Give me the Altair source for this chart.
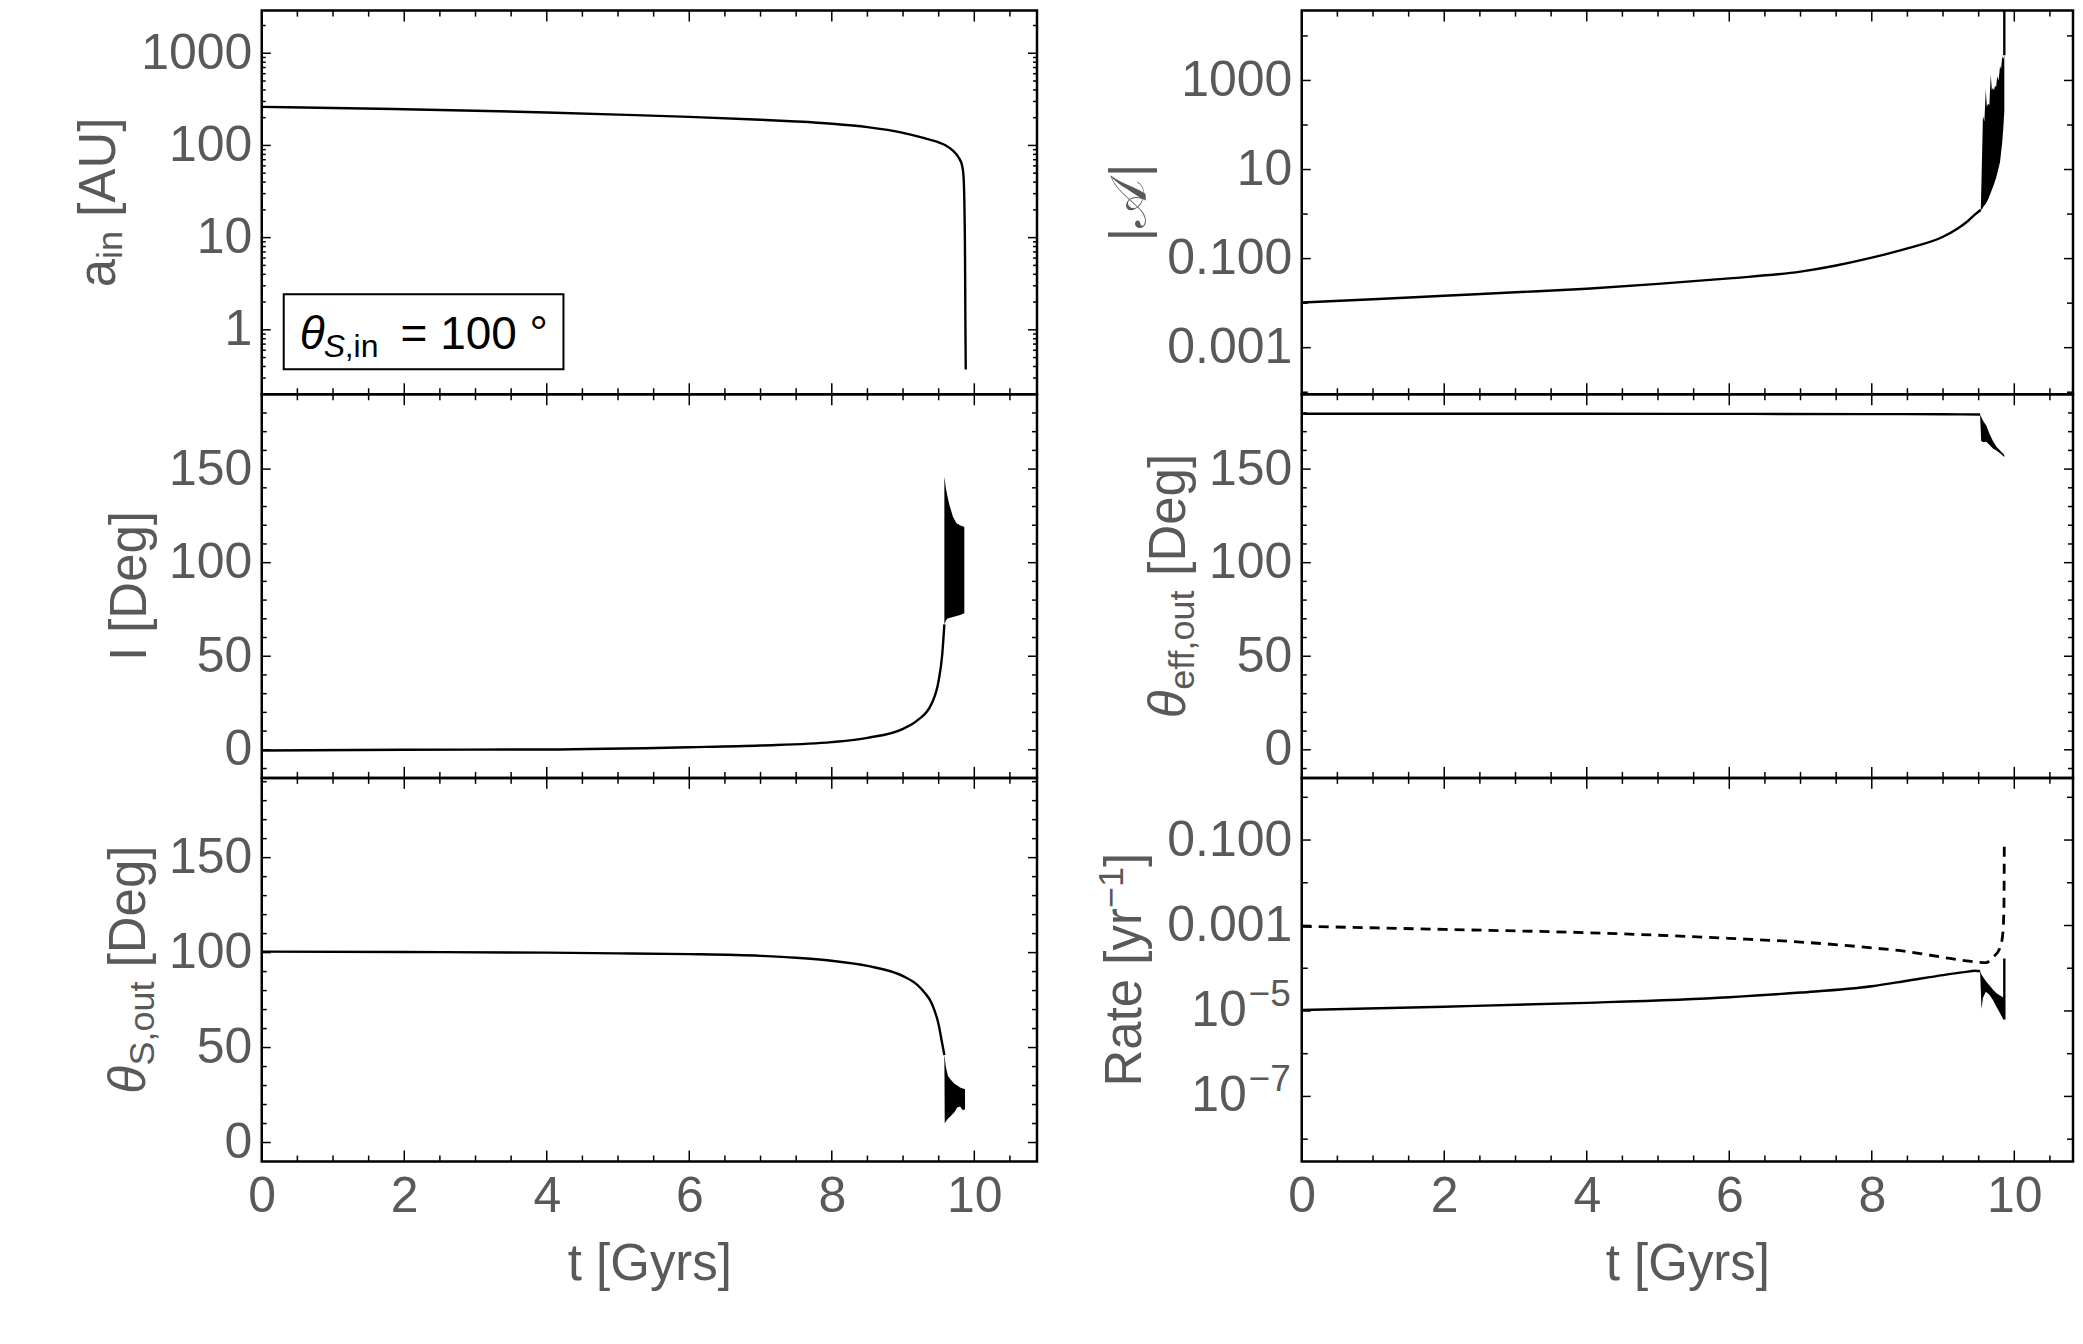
import altair as alt
import pandas as pd

FONT = "Liberation Sans"
GRAY = "#595959"
FS = 50       # tick labels
FS_T = 51     # axis titles
SUB = 36      # subscripts in titles
H = 384
W_L = 776
W_R = 772
PX_PER_T = 776 / 10.88
XMAX_L = W_L / PX_PER_T
XMAX_R = W_R / PX_PER_T

# ---------------- x ticks ----------------
t_major = [0, 2, 4, 6, 8, 10]
t_minor = [0.5, 1, 1.5, 2.5, 3, 3.5, 4.5, 5, 5.5, 6.5, 7, 7.5, 8.5, 9, 9.5, 10.5]

# ---------------- panel a_in [AU] ----------------
a_t = [0, 1, 2, 3, 4, 5, 6, 7, 7.5, 8, 8.5, 9, 9.3, 9.5, 9.6, 9.7, 9.78, 9.83, 9.85, 9.86, 9.87, 9.875, 9.88]
a_v = [262, 255, 247, 238, 228, 216, 204, 190, 182, 172, 158, 137, 120, 108, 100, 88, 74, 60, 45, 25, 6, 1.2, 0.37]

# ---------------- panel |A| ----------------
b_t = [0, 1, 2, 3, 4, 5, 6, 7, 7.5, 8, 8.5, 9, 9.2, 9.35, 9.45, 9.53]
b_v = [0.0103, 0.0122, 0.0146, 0.0175, 0.021, 0.027, 0.036, 0.051, 0.07, 0.105, 0.17, 0.31, 0.47, 0.7, 0.98, 1.25]
b_band_t = [9.53, 9.55, 9.56, 9.58, 9.60, 9.615, 9.63, 9.65, 9.67, 9.685, 9.70, 9.715, 9.73, 9.745, 9.76, 9.78, 9.80, 9.815, 9.83, 9.845, 9.86]
b_band_lo = [1.25, 1.3, 1.4, 1.55, 1.7, 1.9, 2.1, 2.5, 3.0, 3.5, 4.0, 4.7, 5.5, 6.5, 8, 11, 15, 24, 40, 80, 200]
b_band_hi = [1.25, 30, 160, 120, 630, 250, 300, 280, 1360, 600, 690, 600, 770, 700, 1250, 1000, 2100, 1800, 3500, 3000, 3700]
b_spike_t = [9.86, 9.8601]
b_spike_v = [3700, 1e6]

# ---------------- panel I [Deg] ----------------
c_t = [0, 2, 4, 6, 7, 8, 8.5, 9, 9.2, 9.4, 9.5, 9.55, 9.58]
c_v = [-0.4, 0, 0.2, 1.4, 2.3, 4.1, 6.4, 11.2, 15.7, 24.6, 37, 51, 67]
c_band_t = [9.58, 9.60, 9.62, 9.65, 9.70, 9.75, 9.80, 9.86]
c_band_hi = [146, 140, 136, 131, 124.5, 121, 120, 119]
c_band_lo = [67, 69, 70, 70.5, 71, 71.5, 72, 73]

# ---------------- panel theta_eff,out ----------------
d_t = [0, 2, 4, 6, 8, 9, 9.52]
d_v = [179.6, 179.6, 179.6, 179.5, 179.4, 179.3, 179.2]
d_band_t = [9.52, 9.535, 9.56, 9.61, 9.65, 9.70, 9.75, 9.80, 9.86]
d_band_hi = [179.2, 178, 176, 173, 169, 165, 162, 160, 157.5]
d_band_lo = [179.2, 165, 164.5, 164.5, 163, 161, 160, 158.5, 156.5]

# ---------------- panel theta_S,out ----------------
e_t = [0, 2, 4, 5, 6, 7, 7.5, 8, 8.5, 9, 9.2, 9.3, 9.4, 9.5, 9.55, 9.58]
e_v = [100.5, 100.3, 100, 99.6, 99.2, 98.3, 97.3, 95.7, 93, 87.6, 83, 79, 73.5, 62, 52, 46]
e_band_t = [9.58, 9.585, 9.60, 9.63, 9.67, 9.72, 9.76, 9.80, 9.84, 9.87]
e_band_hi = [46, 45, 40, 35, 33, 31, 30, 29, 28.5, 28]
e_band_lo = [46, 10, 11, 12.5, 14, 16, 18.5, 19, 17, 17.5]

# ---------------- panel Rate ----------------
f_t = [0, 2, 4, 6, 7, 8, 8.5, 9, 9.3, 9.45, 9.52]
f_v = [1.05e-5, 1.26e-5, 1.55e-5, 2.1e-5, 2.7e-5, 3.8e-5, 5.1e-5, 6.9e-5, 8.1e-5, 8.7e-5, 8.5e-5]
f_band_t = [9.52, 9.54, 9.56, 9.60, 9.65, 9.70, 9.75, 9.80, 9.84, 9.86]
f_band_hi = [8.5e-5, 7.1e-5, 6.3e-5, 5.0e-5, 4.0e-5, 3.2e-5, 2.6e-5, 2.3e-5, 2.1e-5, 2.1e-5]
f_band_lo = [8.5e-5, 1.1e-5, 2.0e-5, 2.8e-5, 2.4e-5, 1.8e-5, 1.26e-5, 8.9e-6, 6.6e-6, 6.3e-6]
f_spike_t = [9.86, 9.8601]
f_spike_v = [6.3e-6, 1.7e-4]
f_dash_t = [0, 2, 4, 6, 7, 8, 8.5, 9, 9.3, 9.5, 9.6, 9.7, 9.8, 9.84, 9.855, 9.86]
f_dash_v = [9.6e-4, 8.1e-4, 6.8e-4, 5.0e-4, 4.1e-4, 3.0e-4, 2.45e-4, 1.8e-4, 1.5e-4, 1.38e-4, 1.35e-4, 1.8e-4, 3.0e-4, 6.8e-4, 3e-3, 0.1]
f_pow_v = [1e-5, 1e-7]
f_pow_e = ["\u22125", "\u22127"]

ONE = pd.DataFrame({"k": [0]})

# Arial / Liberation Sans advance widths (em)
WID = {'a': .556, 'i': .222, 'n': .556, ' ': .278, '[': .278, ']': .278, 'A': .667,
       'U': .722, 'I': .278, 'D': .722, 'e': .556, 'g': .556, '\u03b8': .556, 'S': .667,
       ',': .278, 'o': .556, 'u': .556, 't': .278, 'f': .278, 'R': .722, 'y': .5,
       'r': .333, '\u2212': .584, '1': .556, '|': .26, '=': .584, '0': .556, '\u00b0': .4,
       '\U0001d49c': 1.0}


def tw(s, fs):
    return sum(WID.get(c, .7) for c in s) * fs


def X(xmax, axis):
    return alt.X("t:Q", scale=alt.Scale(domain=[0, xmax], nice=False, zero=False), axis=axis)


def xaxis_bottom():
    return alt.Axis(values=t_major, format="d", labelFontSize=FS, labelFont=FONT, labelColor=GRAY,
                    ticks=False, tickSize=0, domain=False, grid=False, labelPadding=10,
                    labelFlush=False, labelOverlap=False, title="t [Gyrs]", titleFont=FONT,
                    titleFontSize=FS_T, titleFontWeight="normal", titleColor=GRAY, titlePadding=18)


def yaxis(values, expr=None):
    kw = dict(values=values, labelFontSize=FS, labelFont=FONT, labelColor=GRAY, ticks=False,
              tickSize=0, domain=False, grid=False, labelPadding=10, labelOverlap=False,
              labelFlush=False, title=None)
    if expr:
        kw["labelExpr"] = expr
    else:
        kw["format"] = "d"
    return alt.Axis(**kw)


def rot_title(segs, bx, cy):
    total = sum(tw(s, fs) for s, fs, sh, it in segs)
    y0 = cy + total / 2
    out, off = [], 0
    for s, fs, sh, it in segs:
        lead = len(s) - len(s.lstrip(" "))
        txt = s.lstrip(" ")
        out.append(alt.Chart(ONE).mark_text(
            text=txt, angle=270, align="left", baseline="alphabetic", fontSize=fs, font=FONT,
            fontStyle="italic" if it else "normal", color=GRAY
        ).encode(x=alt.value(bx + sh), y=alt.value(y0 - off - tw(" " * lead, fs))))
        off += tw(s, fs)
    return out


def panel(xmax, width, yscale, yax, lines, areas, yt_groups, title_segs, title_x,
          bottom=False, extra=None):
    xa = xaxis_bottom() if bottom else None
    xe = X(xmax, xa)

    def ye(field):
        return alt.Y(f"{field}:Q", scale=yscale, axis=yax)

    layers = []
    for ts, lo, hi in areas:
        df = pd.DataFrame({"t": ts, "lo": lo, "hi": hi})
        layers.append(alt.Chart(df).mark_area(color="black", opacity=1, clip=True, interpolate="linear")
                      .encode(x=xe, y=ye("lo"), y2=alt.Y2("hi:Q")))
    for ts, vs, dash in lines:
        df = pd.DataFrame({"t": ts, "v": vs})
        kw = dict(color="black", strokeWidth=2.4, clip=True, interpolate="monotone")
        if dash:
            kw["strokeDash"] = [10, 7]
            kw["strokeWidth"] = 2.8
        layers.append(alt.Chart(df).mark_line(**kw).encode(x=xe, y=ye("v")))
    # x ticks (inward, top and bottom)
    for vals, L in ((t_major, 11), (t_minor, 6)):
        df = pd.DataFrame({"t": [v for v in vals if v <= xmax]})
        for y0, y1 in ((0, L), (H, H - L)):
            layers.append(alt.Chart(df).mark_rule(color="black", strokeWidth=1.5)
                          .encode(x=xe, y=alt.value(y0), y2=alt.value(y1)))
    # y ticks (inward, left and right)
    for vals, L in yt_groups:
        df = pd.DataFrame({"v": vals})
        for x0, x1 in ((0, L), (width, width - L)):
            layers.append(alt.Chart(df).mark_rule(color="black", strokeWidth=1.5)
                          .encode(y=ye("v"), x=alt.value(x0), x2=alt.value(x1)))
    if extra:
        layers += extra(ye)
    layers += rot_title(title_segs, title_x, H / 2)
    return alt.layer(*layers).properties(width=width, height=H)


def log_minor(decades):
    return [m * d for d in decades for m in range(2, 10)]


# ---- panel A
scaleA = alt.Scale(type="log", domain=[0.2, 2900], nice=False)
axA = yaxis([1, 10, 100, 1000],
            "datum.value < 5 ? '1' : datum.value < 50 ? '10' : datum.value < 500 ? '100' : '1000'")
minA = [v for v in log_minor([0.1, 1, 10, 100, 1000]) if 0.2 <= v <= 2900]


def legend_A(ye):
    out = [alt.Chart(ONE).mark_rect(fill="white", stroke="black", strokeWidth=2)
           .encode(x=alt.value(22), x2=alt.value(302), y=alt.value(284), y2=alt.value(359))]
    segs = [("\u03b8", 46, 38, 339, True), ("S", 32, 62, 347, True), (",in", 32, 83, 347, False),
            ("= 100 \u00b0", 46, 139, 339, False)]
    for s, fs, x, y, it in segs:
        out.append(alt.Chart(ONE).mark_text(text=s, align="left", baseline="alphabetic", fontSize=fs,
                                            font=FONT, fontStyle="italic" if it else "normal",
                                            color="black")
                   .encode(x=alt.value(x), y=alt.value(y)))
    return out


pA = panel(XMAX_L, W_L, scaleA, axA, [(a_t, a_v, False)], [],
           [([1, 10, 100, 1000], 9), (minA, 4)],
           [("a", FS_T, 0, False), ("in", SUB, 7, False), (" [AU]", FS_T, 0, False)], -147,
           extra=legend_A)

# ---- panel B
scaleB = alt.Scale(type="log", domain=[9e-5, 3.7e4], nice=False)
axB = yaxis([0.001, 0.1, 10, 1000],
            "datum.value < 0.01 ? '0.001' : datum.value < 1 ? '0.100' : datum.value < 100 ? '10' : '1000'")
pB = panel(XMAX_R, W_R, scaleB, axB,
           [(b_t, b_v, False), (b_spike_t, b_spike_v, False)],
           [(b_band_t, b_band_lo, b_band_hi)],
           [([0.001, 0.1, 10, 1000], 9), ([1e-4, 0.01, 1, 100, 1e4], 6)],
           [("|", FS_T, 0, False), ("\U0001d49c", FS_T, 0, False), ("|", FS_T, 0, False)], -156)

# ---- panel C
scaleC = alt.Scale(domain=[-15, 190], nice=False, zero=False)
axC = yaxis([0, 50, 100, 150])
minC = [-10, 10, 20, 30, 40, 60, 70, 80, 90, 110, 120, 130, 140, 160, 170, 180]
pC = panel(XMAX_L, W_L, scaleC, axC, [(c_t, c_v, False)], [(c_band_t, c_band_lo, c_band_hi)],
           [([0, 50, 100, 150], 9), (minC, 5)],
           [("I [Deg]", FS_T, 0, False)], -116)

# ---- panel D
pD = panel(XMAX_R, W_R, scaleC, axC, [(d_t, d_v, False)], [(d_band_t, d_band_lo, d_band_hi)],
           [([0, 50, 100, 150], 9), (minC, 5)],
           [("\u03b8", FS_T, 0, True), ("eff,out", SUB, 9, False), (" [Deg]", FS_T, 0, False)], -117)

# ---- panel E
scaleE = alt.Scale(domain=[-10, 192], nice=False, zero=False)
minE = [10, 20, 30, 40, 60, 70, 80, 90, 110, 120, 130, 140, 160, 170, 180, 190]
pE = panel(XMAX_L, W_L, scaleE, axC, [(e_t, e_v, False)], [(e_band_t, e_band_lo, e_band_hi)],
           [([0, 50, 100, 150], 9), (minE, 5)],
           [("\u03b8", FS_T, 0, True), ("S,out", SUB, 9, False), (" [Deg]", FS_T, 0, False)], -117,
           bottom=True)

# ---- panel F
scaleF = alt.Scale(type="log", domain=[3e-9, 2.85], nice=False)
axF = yaxis([0.1, 0.001, 1e-5, 1e-7],
            "datum.value > 0.01 ? '0.100' : datum.value > 0.0001 ? '0.001' : ''")


def pow_labels(ye):
    df = pd.DataFrame({"v": f_pow_v, "e": f_pow_e})
    return [
        alt.Chart(df).mark_text(text="10", align="right", baseline="middle", fontSize=FS, font=FONT,
                                color=GRAY).encode(y=ye("v"), x=alt.value(-55)),
        alt.Chart(df).mark_text(align="right", baseline="middle", fontSize=37, font=FONT, dy=-16,
                                color=GRAY).encode(y=ye("v"), x=alt.value(-11), text="e:N"),
    ]


pF = panel(XMAX_R, W_R, scaleF, axF,
           [(f_t, f_v, False), (f_spike_t, f_spike_v, False), (f_dash_t, f_dash_v, True)],
           [(f_band_t, f_band_lo, f_band_hi)],
           [([0.1, 0.001, 1e-5, 1e-7], 9), ([1, 0.01, 1e-4, 1e-6, 1e-8], 6)],
           [("Rate [yr", FS_T, 0, False), ("\u22121", SUB, -18, False), ("]", FS_T, 0, False)], -161,
           bottom=True, extra=pow_labels)

chart = alt.concat(pA, pB, pC, pD, pE, pF, columns=2, bounds="flush",
                   spacing={"row": 0, "column": 265}).properties(
    padding={"left": 64, "top": 0, "right": 0, "bottom": 0}, background="white"
).configure(font=FONT).configure_view(stroke="black", strokeWidth=2.5)

chart.save("out.html", embed_options={"renderer": "svg", "actions": False})
